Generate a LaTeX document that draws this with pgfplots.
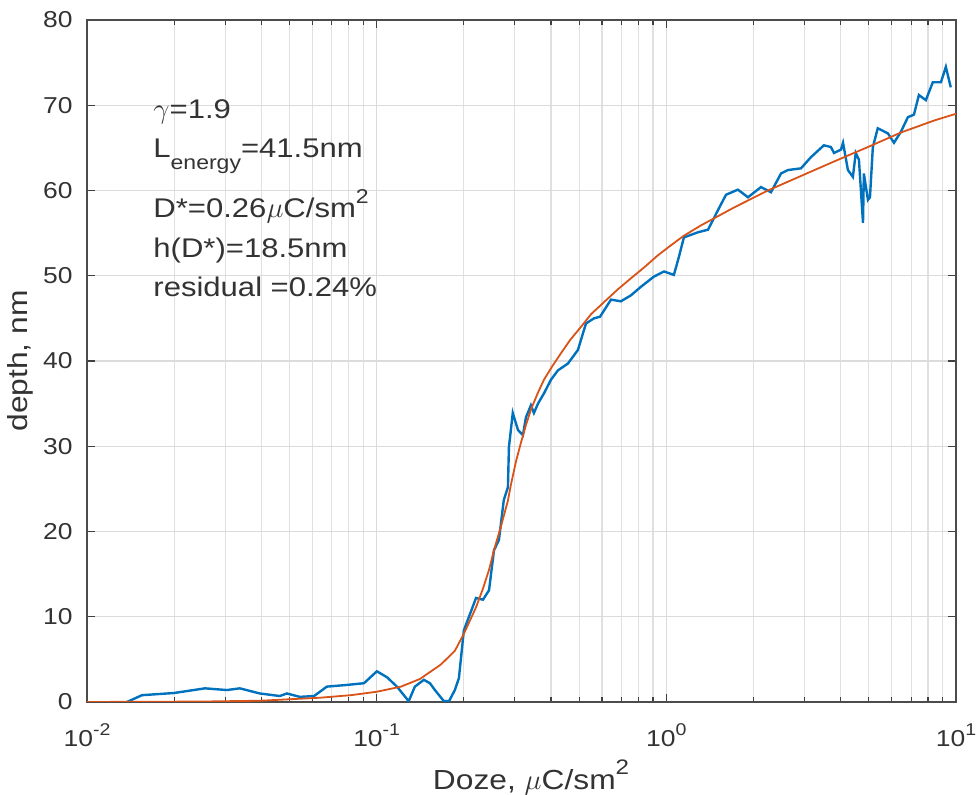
\documentclass[border=0pt]{standalone}
\usepackage{fontspec}
\setmainfont[FakeStretch=1.15]{Liberation Sans}
\usepackage{pgfplots}
\pgfplotsset{compat=1.18}
\definecolor{mblue}{rgb}{0,0.447,0.741}
\definecolor{mred}{rgb}{0.85,0.325,0.098}
\definecolor{mtext}{rgb}{0.2,0.2,0.2}
\newcommand\tsup[1]{\raisebox{5.5pt}{\fontsize{8.5}{9}\selectfont #1}}
\newcommand\asup[1]{\raisebox{7pt}{\fontsize{10}{10}\selectfont #1}}
\newcommand\asub[1]{\raisebox{-6pt}{\fontsize{10}{10}\selectfont #1}}
\newcommand\lsup[1]{\raisebox{7.5pt}{\fontsize{10.5}{11}\selectfont #1}}

\pgfplotstableread{
x y
0.01374 0
0.01549 0.8
0.01995 1.05
0.02553 1.6
0.0304 1.4
0.0337 1.6
0.0395 1.0
0.0463 0.7
0.0490 1.0
0.0543 0.6
0.0608 0.7
0.0673 1.8
0.0789 2.0
0.0904 2.2
0.1002 3.6
0.1086 2.9
0.1175 1.8
0.129 0.1
0.1355 1.8
0.1455 2.6
0.1528 2.2
0.1589 1.4
0.1706 0.1
0.1778 0.1
0.1862 1.4
0.1923 2.8
0.2000 8.4
0.2203 12.2
0.2328 12.0
0.2443 13.1
0.2541 17.8
0.2643 19.0
0.2748 23.7
0.2839 25.2
0.2862 29.9
0.2951 33.9
0.3076 31.9
0.3198 31.3
0.3277 33.4
0.3409 34.8
0.3491 33.9
0.3606 35.0
0.3781 36.2
0.3998 37.8
0.4224 38.9
0.4574 39.7
0.4953 41.3
0.5279 44.4
0.5625 45.0
0.5907 45.2
0.6442 47.2
0.6971 47.0
0.7548 47.7
0.8170 48.7
0.9062 49.9
0.9817 50.5
1.062 50.1
1.105 52.2
1.150 54.5
1.286 55.1
1.393 55.4
1.508 57.7
1.607 59.5
1.767 60.1
1.914 59.2
2.122 60.4
2.298 59.8
2.489 62.0
2.630 62.4
2.917 62.6
3.155 63.9
3.499 65.3
3.700 65.1
3.793 64.4
4.009 64.8
4.074 65.6
4.236 62.4
4.406 61.6
4.508 64.4
4.624 63.6
4.775 56.2
4.808 62.0
4.966 58.9
5.047 59.2
5.164 65.1
5.370 67.3
5.821 66.7
6.109 65.6
6.457 66.9
6.823 68.6
7.161 68.9
7.447 71.2
7.870 70.6
8.318 72.7
8.872 72.7
9.226 74.5
9.594 72.1
}\measured

\pgfplotstableread{
x y
0.01 0
0.02474 0.05
0.03987 0.15
0.06371 0.5
0.0815 0.8
0.1 1.2
0.1213 1.8
0.1411 2.7
0.1667 4.4
0.1862 6.0
0.2 8.0
0.2203 11.1
0.2328 13.3
0.2443 15.5
0.2541 17.8
0.2686 20.6
0.2838 23.6
0.2908 25.5
0.3026 28.2
0.3148 30.4
0.3277 32.5
0.3409 34.3
0.3606 36.3
0.3781 37.8
0.4024 39.3
0.4326 40.9
0.4664 42.5
0.5073 44.0
0.5500 45.5
0.6091 46.9
0.6800 48.4
0.7548 49.7
0.8400 51.0
0.9354 52.4
1.04 53.6
1.150 54.7
1.316 55.9
1.712 58.0
2.242 60.0
2.915 61.7
3.793 63.4
4.966 65.1
6.457 66.8
8.389 68.2
10 69.0
}\fitcurve

\begin{document}
\begin{tikzpicture}
\useasboundingbox (-43.5pt,-46.5pt) rectangle (444.5pt,351pt);
\begin{axis}[
  scale only axis,
  width=434.5pt, height=341pt,
  at={(0,0)}, anchor=south west,
  xmode=log, xmin=0.01, xmax=10, ymin=0, ymax=80,
  xtick={0.01,0.1,1,10},
  xticklabels={10\tsup{-2},10\tsup{-1},10\tsup{0},10\tsup{1}},
  ytick={0,10,...,80},
  /pgf/number format/assume math mode=true,
  xmajorgrids, xminorgrids, ymajorgrids,
  major grid style={black!14, line width=0.6pt},
  minor grid style={black!12, line width=0.6pt},
  axis line style={black!70, line width=0.8pt},
  tick align=inside,
  major tick length=4pt, minor tick length=2.5pt,
  every tick/.style={black!75, line width=0.6pt},
  tick label style={font=\fontsize{11.5}{13}\selectfont, text=mtext},
  yticklabel style={anchor=east, inner sep=0pt, xshift=-7pt},
  xticklabel style={anchor=base, inner sep=0pt, yshift=-22.5pt},
  xlabel={Doze, $\mu$C/sm\lsup{2}},
  ylabel={depth, nm},
  label style={font=\fontsize{13.8}{15}\selectfont, text=mtext},
  xlabel style={at={(axis description cs:0.511,-0.128)}, anchor=base, inner sep=0pt},
  ylabel style={at={(axis description cs:-0.069,0.5)}, anchor=base, inner sep=0pt, rotate=0},
  clip=true,
]
\addplot[mblue, line width=1.2pt] table[x=x,y=y]{\measured};
\addplot[mred, line width=0.9pt] table[x=x,y=y]{\fitcurve};
\begin{scope}[every node/.style={anchor=base west, inner sep=0pt, text=mtext, font=\fontsize{13.5}{15}\selectfont}]
\node at (rel axis cs:0.076,0.856) {$\gamma$=1.9};
\node at (rel axis cs:0.076,0.799) {L\asub{energy}=41.5nm};
\node at (rel axis cs:0.076,0.711) {D*=0.26$\mu$C/sm\asup{2}};
\node at (rel axis cs:0.076,0.652) {h(D*)=18.5nm};
\node at (rel axis cs:0.076,0.594) {residual =0.24\%};
\end{scope}
\end{axis}
\end{tikzpicture}
\end{document}
